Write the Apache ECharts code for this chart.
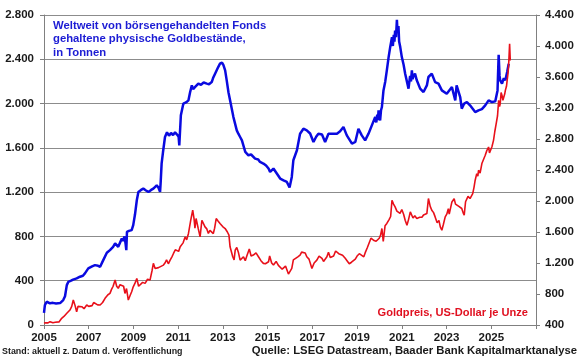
<!DOCTYPE html>
<html>
<head>
<meta charset="utf-8">
<script src="https://cdn.jsdelivr.net/npm/echarts@6/dist/echarts.min.js"></script>
<style>
html,body{margin:0;padding:0;background:#fff;}
#chart{width:580px;height:359px;}
</style>
</head>
<body>
<div id="chart"></div>
<script>
// ---- Data ----
// ETF gold holdings, tonnes (left axis); dates as decimal years
const holdDates = [2005.00,2005.04,2005.12,2005.18,2005.27,2005.40,2005.54,2005.72,2005.86,2005.94,2006.02,2006.09,2006.21,2006.30,2006.46,2006.61,2006.74,2006.83,2006.98,2007.15,2007.28,2007.42,2007.51,2007.65,2007.81,2007.95,2008.09,2008.18,2008.32,2008.48,2008.53,2008.60,2008.65,2008.68,2008.71,2008.80,2008.92,2008.99,2009.07,2009.15,2009.22,2009.34,2009.44,2009.56,2009.67,2009.79,2009.89,2010.04,2010.12,2010.19,2010.22,2010.26,2010.32,2010.41,2010.50,2010.59,2010.68,2010.77,2010.86,2010.95,2011.02,2011.05,2011.12,2011.23,2011.35,2011.46,2011.53,2011.61,2011.67,2011.76,2011.90,2012.02,2012.14,2012.28,2012.38,2012.50,2012.56,2012.65,2012.79,2012.87,2012.96,2013.02,2013.10,2013.17,2013.25,2013.32,2013.47,2013.62,2013.69,2013.77,2013.85,2014.00,2014.14,2014.26,2014.44,2014.58,2014.66,2014.81,2014.93,2015.04,2015.11,2015.26,2015.41,2015.56,2015.71,2015.86,2015.98,2016.08,2016.15,2016.31,2016.45,2016.60,2016.68,2016.75,2016.90,2017.05,2017.17,2017.27,2017.43,2017.57,2017.72,2017.94,2018.10,2018.24,2018.39,2018.54,2018.77,2018.92,2019.06,2019.21,2019.36,2019.51,2019.66,2019.81,2019.86,2019.90,2019.93,2019.96,2020.00,2020.03,2020.07,2020.11,2020.18,2020.26,2020.33,2020.41,2020.48,2020.56,2020.60,2020.64,2020.67,2020.70,2020.74,2020.78,2020.81,2020.85,2020.88,2020.93,2021.00,2021.08,2021.15,2021.30,2021.37,2021.41,2021.45,2021.48,2021.51,2021.59,2021.67,2021.82,2021.97,2022.12,2022.19,2022.34,2022.49,2022.64,2022.79,2023.01,2023.24,2023.39,2023.45,2023.61,2023.68,2023.79,2023.91,2024.05,2024.28,2024.43,2024.58,2024.73,2024.88,2025.03,2025.18,2025.28,2025.33,2025.37,2025.40,2025.48,2025.56,2025.63,2025.71,2025.78];
const holdTonnes = [110,180,210,205,196,200,195,198,225,260,360,390,400,410,421,436,445,466,511,530,541,535,526,586,652,676,705,737,706,782,760,800,730,676,841,850,857,902,1000,1127,1202,1220,1232,1215,1202,1220,1232,1262,1240,1202,1300,1460,1560,1698,1740,1710,1735,1715,1740,1720,1700,1623,1894,1999,2010,2029,2100,2164,2130,2150,2180,2170,2190,2180,2175,2194,2230,2270,2330,2360,2370,2350,2300,2210,2100,2029,1878,1758,1728,1698,1668,1563,1533,1540,1503,1495,1473,1458,1440,1413,1383,1413,1368,1323,1307,1292,1242,1337,1488,1578,1728,1773,1780,1758,1730,1653,1700,1728,1720,1653,1728,1728,1728,1750,1788,1713,1638,1653,1773,1713,1668,1728,1803,1878,1830,1900,1850,1939,1880,1848,1940,1969,2119,2200,2300,2420,2510,2600,2520,2620,2560,2660,2600,2757,2640,2700,2560,2510,2420,2350,2270,2135,2250,2200,2300,2220,2240,2270,2210,2135,2104,2164,2240,2270,2194,2180,2119,2089,2149,2029,2164,2059,1954,2000,2014,1984,1923,1939,1950,1984,2029,2014,2020,2119,2440,2250,2210,2180,2230,2210,2285,2360];

// Gold price, USD per ounce (right axis)
const priceDates = [2005.00,2005.09,2005.18,2005.27,2005.40,2005.50,2005.57,2005.67,2005.79,2005.89,2006.02,2006.10,2006.16,2006.24,2006.31,2006.39,2006.46,2006.52,2006.57,2006.69,2006.79,2006.91,2007.00,2007.06,2007.15,2007.22,2007.28,2007.40,2007.51,2007.62,2007.73,2007.80,2007.86,2007.95,2008.02,2008.09,2008.18,2008.25,2008.32,2008.40,2008.48,2008.56,2008.62,2008.69,2008.77,2008.85,2008.92,2008.99,2009.07,2009.15,2009.23,2009.30,2009.41,2009.52,2009.63,2009.74,2009.83,2009.89,2009.97,2010.04,2010.12,2010.19,2010.34,2010.41,2010.48,2010.56,2010.64,2010.72,2010.79,2010.87,2010.94,2011.02,2011.09,2011.22,2011.31,2011.38,2011.46,2011.56,2011.65,2011.71,2011.75,2011.80,2011.90,2011.98,2012.06,2012.13,2012.20,2012.28,2012.35,2012.42,2012.50,2012.57,2012.63,2012.70,2012.79,2012.87,2012.93,2012.99,2013.10,2013.20,2013.27,2013.32,2013.38,2013.44,2013.50,2013.55,2013.62,2013.69,2013.77,2013.85,2013.92,2014.00,2014.08,2014.18,2014.26,2014.36,2014.48,2014.59,2014.70,2014.81,2014.90,2015.04,2015.09,2015.18,2015.26,2015.38,2015.48,2015.56,2015.65,2015.71,2015.80,2015.93,2016.00,2016.08,2016.15,2016.23,2016.35,2016.45,2016.52,2016.60,2016.68,2016.75,2016.85,2016.98,2017.08,2017.20,2017.30,2017.43,2017.50,2017.65,2017.72,2017.80,2017.87,2017.95,2018.04,2018.10,2018.18,2018.24,2018.35,2018.47,2018.55,2018.65,2018.75,2018.83,2018.92,2019.00,2019.10,2019.18,2019.30,2019.36,2019.46,2019.54,2019.62,2019.68,2019.76,2019.85,2019.92,2019.99,2020.05,2020.11,2020.17,2020.25,2020.33,2020.43,2020.50,2020.56,2020.63,2020.70,2020.78,2020.85,2020.92,2021.00,2021.08,2021.15,2021.23,2021.30,2021.38,2021.45,2021.50,2021.58,2021.67,2021.73,2021.80,2021.90,2021.97,2022.05,2022.12,2022.19,2022.27,2022.34,2022.42,2022.49,2022.58,2022.66,2022.72,2022.79,2022.86,2022.94,2023.01,2023.08,2023.12,2023.24,2023.34,2023.40,2023.46,2023.55,2023.62,2023.68,2023.74,2023.79,2023.85,2023.91,2023.96,2024.05,2024.12,2024.17,2024.23,2024.28,2024.35,2024.40,2024.43,2024.50,2024.58,2024.66,2024.73,2024.80,2024.88,2024.92,2024.96,2025.03,2025.10,2025.16,2025.22,2025.28,2025.33,2025.37,2025.40,2025.44,2025.48,2025.52,2025.55,2025.60,2025.63,2025.68,2025.71,2025.75,2025.78,2025.82,2025.85];
const priceUsd = [425,430,427,443,430,435,421,440,486,510,551,570,593,640,722,650,571,640,620,636,610,658,640,660,650,690,679,660,658,690,744,730,790,808,860,900,980,900,873,920,937,900,808,870,722,780,829,893,940,1001,900,915,950,937,990,980,1100,1195,1130,1108,1140,1120,1173,1200,1240,1190,1237,1280,1323,1370,1390,1350,1409,1460,1537,1500,1581,1750,1881,1770,1650,1774,1640,1537,1752,1774,1666,1640,1581,1620,1610,1580,1650,1774,1740,1710,1720,1670,1645,1600,1560,1409,1420,1280,1240,1366,1400,1340,1237,1260,1280,1230,1300,1380,1290,1302,1330,1280,1230,1195,1190,1216,1290,1200,1173,1220,1170,1151,1120,1108,1160,1057,1070,1130,1240,1237,1280,1302,1340,1344,1330,1280,1250,1130,1200,1237,1290,1259,1220,1280,1340,1270,1259,1290,1355,1344,1320,1340,1300,1260,1230,1190,1210,1220,1250,1290,1320,1300,1280,1330,1400,1420,1520,1520,1490,1480,1470,1520,1560,1645,1480,1680,1710,1760,1800,2010,1960,1924,1870,1881,1840,1890,1830,1752,1688,1760,1860,1881,1780,1810,1774,1750,1790,1790,1820,1800,1838,2032,1930,1881,1850,1795,1720,1750,1666,1623,1700,1795,1830,1900,1830,1988,2030,1960,1960,1930,1950,1903,1850,1817,1990,1988,2060,2032,2020,2096,2180,2268,2354,2320,2397,2360,2483,2500,2590,2650,2697,2620,2611,2700,2783,2900,2998,3100,3298,3220,3255,3400,3362,3300,3320,3380,3427,3480,3556,3650,3770,4028,3813];

const xStartYear = 2005;
const xTickYears = [2005,2007,2009,2011,2013,2015,2017,2019,2021,2023,2025];

const titleLines = ['Weltweit von börsengehandelten Fonds','gehaltene physische Goldbestände,','in Tonnen'];
const priceLabel = 'Goldpreis, US-Dollar je Unze';
const footLeft = 'Stand: aktuell z. Datum d. Veröffentlichung';
const footRight = 'Quelle: LSEG Datastream, Baader Bank Kapitalmarktanalyse';

// ---- Chart ----
function fmtThousands(v){
  if (v >= 1000) { return Math.floor(v/1000) + '.' + String(v % 1000).padStart(3,'0'); }
  return String(v);
}
const FONT = 'Liberation Sans, Arial, sans-serif';
const chart = echarts.init(document.getElementById('chart'), null, {renderer:'canvas'});
const holdData = holdDates.map((d,i)=>[d - xStartYear, holdTonnes[i]]);
const priceData = priceDates.map((d,i)=>[d - xStartYear, priceUsd[i]]);

const axisLineStyle = {color:'#808080', width:1};
chart.setOption({
  animation:false,
  backgroundColor:'#ffffff',
  grid:{left:44, right:44, top:15, bottom:34, containLabel:false},
  xAxis:{
    type:'value', min:0, max:22, interval:2,
    axisLine:{show:true, lineStyle:axisLineStyle},
    axisTick:{show:true, length:4, lineStyle:axisLineStyle},
    splitLine:{show:false},
    axisLabel:{
      margin:7, color:'#1a1a1a', fontFamily:FONT, fontWeight:'bold', fontSize:11.5,
      formatter:function(v){ const y = xStartYear + v; return xTickYears.indexOf(y) >= 0 ? String(y) : ''; }
    }
  },
  yAxis:[{
    type:'value', min:0, max:2800, interval:400, position:'left',
    axisLine:{show:true, lineStyle:axisLineStyle},
    axisTick:{show:true, length:4, lineStyle:axisLineStyle},
    splitLine:{show:true, lineStyle:{color:'#8c8c8c', width:1}},
    axisLabel:{margin:10, color:'#1a1a1a', fontFamily:FONT, fontWeight:'bold', fontSize:11.5, formatter:fmtThousands}
  },{
    type:'value', min:400, max:4400, interval:400, position:'right',
    axisLine:{show:true, lineStyle:axisLineStyle},
    axisTick:{show:true, length:4, lineStyle:axisLineStyle},
    splitLine:{show:false},
    axisLabel:{margin:9, color:'#1a1a1a', fontFamily:FONT, fontWeight:'bold', fontSize:11.5, formatter:fmtThousands}
  }],
  series:[{
    name:'ETF', type:'line', yAxisIndex:0, data:holdData, showSymbol:false, symbol:'none',
    lineStyle:{color:'#0a0ae0', width:2.5}, z:2
  },{
    name:'Gold', type:'line', yAxisIndex:1, data:priceData, showSymbol:false, symbol:'none',
    lineStyle:{color:'#e8101a', width:1.6}, z:3
  }],
  graphic:[
    {type:'text', left:53, top:19, style:{text:titleLines.join('\n'), fill:'#1c1cd4', font:'bold 11.3px '+FONT, lineHeight:13.5}},
    {type:'text', right:52, top:307, style:{text:priceLabel, fill:'#e01020', font:'bold 11.1px '+FONT}},
    {type:'text', left:2, top:347, style:{text:footLeft, fill:'#1a1a1a', font:'bold 8.9px '+FONT}},
    {type:'text', right:3, top:345, style:{text:footRight, fill:'#1a1a1a', font:'bold 11.3px '+FONT}}
  ]
});
</script>
</body>
</html>
